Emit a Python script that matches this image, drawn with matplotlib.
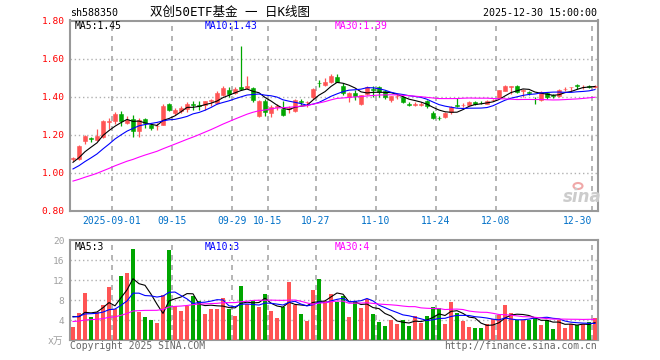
import numpy as np
import pandas as pd
import matplotlib
matplotlib.use('Agg')
import matplotlib.pyplot as plt
from matplotlib.patches import Ellipse

# daily K data, 2025-08-21 .. 2025-12-30 (88 trading days)
opens = [1.075, 1.075, 1.165, 1.182, 1.174, 1.190, 1.266, 1.272, 1.310, 1.260,
         1.284, 1.220, 1.284, 1.250, 1.245, 1.252, 1.363, 1.316, 1.323, 1.337,
         1.362, 1.357, 1.354, 1.377, 1.368, 1.410, 1.433, 1.420, 1.453, 1.447,
         1.447, 1.300, 1.378, 1.315, 1.345, 1.336, 1.338, 1.323, 1.377, 1.370,
         1.397, 1.474, 1.460, 1.478, 1.502, 1.458, 1.397, 1.422, 1.362, 1.414,
         1.440, 1.450, 1.428, 1.384, 1.402, 1.398, 1.362, 1.358, 1.359, 1.378,
         1.317, 1.290, 1.296, 1.318, 1.355, 1.355, 1.358, 1.372, 1.369, 1.363,
         1.382, 1.395, 1.432, 1.452, 1.455, 1.430, 1.426, 1.390, 1.382, 1.418,
         1.407, 1.405, 1.440, 1.449, 1.460, 1.449, 1.456, 1.452]
highs = [1.086, 1.145, 1.198, 1.191, 1.232, 1.278, 1.286, 1.318, 1.326, 1.300,
         1.304, 1.290, 1.290, 1.258, 1.262, 1.360, 1.365, 1.340, 1.352, 1.370,
         1.380, 1.375, 1.380, 1.390, 1.428, 1.456, 1.450, 1.450, 1.665, 1.507,
         1.450, 1.382, 1.390, 1.358, 1.360, 1.380, 1.350, 1.390, 1.390, 1.380,
         1.444, 1.490, 1.498, 1.518, 1.518, 1.470, 1.425, 1.435, 1.410, 1.455,
         1.455, 1.455, 1.435, 1.405, 1.415, 1.402, 1.370, 1.370, 1.370, 1.385,
         1.325, 1.300, 1.320, 1.352, 1.393, 1.365, 1.375, 1.378, 1.378, 1.382,
         1.390, 1.436, 1.462, 1.456, 1.460, 1.440, 1.432, 1.400, 1.428, 1.425,
         1.415, 1.440, 1.450, 1.452, 1.468, 1.460, 1.462, 1.462]
lows = [1.065, 1.070, 1.151, 1.160, 1.170, 1.185, 1.230, 1.258, 1.247, 1.255,
        1.191, 1.190, 1.235, 1.226, 1.226, 1.250, 1.325, 1.305, 1.316, 1.322,
        1.328, 1.328, 1.330, 1.350, 1.360, 1.405, 1.400, 1.415, 1.435, 1.440,
        1.370, 1.295, 1.300, 1.293, 1.330, 1.298, 1.317, 1.318, 1.355, 1.345,
        1.390, 1.450, 1.455, 1.470, 1.475, 1.410, 1.370, 1.385, 1.355, 1.410,
        1.400, 1.400, 1.390, 1.370, 1.390, 1.365, 1.350, 1.350, 1.350, 1.340,
        1.282, 1.280, 1.290, 1.310, 1.345, 1.345, 1.355, 1.358, 1.360, 1.360,
        1.375, 1.392, 1.428, 1.416, 1.420, 1.400, 1.410, 1.360, 1.378, 1.390,
        1.395, 1.400, 1.430, 1.432, 1.440, 1.440, 1.445, 1.445]
closes = [1.078, 1.142, 1.196, 1.178, 1.195, 1.272, 1.270, 1.310, 1.273, 1.279,
          1.220, 1.279, 1.262, 1.236, 1.248, 1.352, 1.330, 1.332, 1.343, 1.362,
          1.355, 1.353, 1.378, 1.381, 1.418, 1.446, 1.415, 1.442, 1.441, 1.458,
          1.385, 1.378, 1.318, 1.348, 1.350, 1.302, 1.342, 1.383, 1.373, 1.373,
          1.442, 1.470, 1.475, 1.510, 1.478, 1.420, 1.419, 1.403, 1.407, 1.450,
          1.435, 1.423, 1.397, 1.402, 1.405, 1.373, 1.358, 1.361, 1.362, 1.350,
          1.290, 1.287, 1.316, 1.348, 1.352, 1.358, 1.372, 1.364, 1.366, 1.378,
          1.385, 1.433, 1.458, 1.455, 1.424, 1.434, 1.422, 1.387, 1.424, 1.400,
          1.404, 1.436, 1.443, 1.452, 1.456, 1.452, 1.452, 1.456]
# volume in 10k lots
volumes = [2.7, 5.5, 9.4, 4.7, 5.7, 7.0, 10.6, 6.2, 12.8, 13.5,
           18.2, 5.6, 4.6, 4.0, 3.4, 9.0, 18.0, 6.8, 5.8, 6.8,
           8.8, 7.8, 5.2, 6.2, 6.2, 8.5, 6.3, 4.9, 10.8, 7.3,
           7.8, 6.7, 9.2, 5.8, 4.5, 6.7, 11.6, 7.0, 5.2, 3.8,
           10.0, 12.3, 7.8, 9.2, 7.7, 8.8, 4.7, 7.8, 6.5, 8.2,
           5.2, 3.7, 2.9, 4.0, 3.2, 4.0, 2.9, 4.8, 3.5, 4.8,
           6.6, 6.4, 3.2, 7.6, 5.5, 3.9, 2.7, 2.4, 2.4, 3.2,
           4.3, 5.0, 7.0, 5.5, 4.0, 4.0, 4.0, 4.7, 3.0, 4.0,
           2.2, 4.0, 2.5, 3.2, 3.0, 3.2, 3.6, 4.4]
# sessions before the window, only used to seed the moving averages
prior_closes = [0.86, 0.87, 0.88, 0.875, 0.885, 0.89, 0.90, 0.91, 0.92, 0.93,
                0.925, 0.935, 0.94, 0.95, 0.955, 0.96, 0.965, 0.97, 0.985, 1.0,
                0.97, 0.98, 0.985, 0.99, 1.005, 1.02, 1.04, 1.06, 1.08]
prior_volumes = [2.8, 3.1, 2.6, 3.4, 3.0, 2.9, 3.3, 3.6, 2.7, 3.2,
                 3.5, 3.0, 3.8, 3.1, 3.4, 3.6, 3.2, 3.9, 3.4, 3.5,
                 4.1, 4.6, 4.3, 4.9, 4.6, 5.8, 4.9, 5.3, 4.8]

date_labels = ['2025-09-01', '09-15', '09-29', '10-15', '10-27', '11-10', '11-24', '12-08', '12-30']
date_index = [7, 17, 27, 33, 41, 51, 61, 71, 87]
price_ticks = [0.80, 1.00, 1.20, 1.40, 1.60, 1.80]
vol_ticks = [4, 8, 12, 16, 20]

n = len(closes)
x = np.arange(n)
c_all = pd.Series(prior_closes + closes)
v_all = pd.Series(prior_volumes + volumes)
ma = {k: c_all.rolling(k).mean().values[-n:] for k in (5, 10, 30)}
vma = {k: v_all.rolling(k).mean().values[-n:] for k in (5, 10, 30)}

RED = '#ff5454'
GREEN = '#00a600'
ma_colors = {5: 'black', 10: '#0000ff', 30: '#ff00ff'}
mono = ['DejaVu Sans Mono', 'Noto Sans CJK SC']

W, H = 660, 360
fig = plt.figure(figsize=(6.6, 3.6), dpi=100)

def fx(px):
    return px / W

def fy(py):
    return 1 - py / H

ax = fig.add_axes([fx(70), fy(211), 528 / W, 190.5 / H])
axv = fig.add_axes([fx(70), fy(340), 528 / W, 100 / H])

up = [c >= o for o, c in zip(opens, closes)]
cols = [RED if u else GREEN for u in up]

# candles
ax.vlines(x, lows, highs, colors=cols, lw=0.9, zorder=3)
bodies = [max(abs(c - o), 0.003) for o, c in zip(opens, closes)]
bottoms = [min(o, c) for o, c in zip(opens, closes)]
ax.bar(x, bodies, bottom=bottoms, width=0.8, color=cols, edgecolor=cols, lw=0.4, zorder=4)
for k in (5, 10, 30):
    ax.plot(x, ma[k], color=ma_colors[k], lw=0.8, zorder=5)

# volume
axv.bar(x, volumes, width=0.8, color=cols, zorder=3)
for k in (5, 10, 30):
    axv.plot(x, vma[k], color=ma_colors[k], lw=0.8, zorder=5)

for a in (ax, axv):
    a.set_xlim(-0.5, n - 0.5)
    a.set_xticks([])
    for d in date_index:
        a.axvline(d - 0.5, color='#a8a8a8', lw=1.2, ls=(0, (3, 3)), zorder=1)
    for s in a.spines.values():
        s.set_color('#999999')
        s.set_linewidth(1.5)
    a.tick_params(axis='y', length=0, pad=4)

ax.set_ylim(0.8, 1.8)
ax.set_yticks(price_ticks)
ax.set_yticklabels(['%.2f' % t for t in price_ticks], color='red', fontsize=6.8, family=mono)
for t in price_ticks[1:-1]:
    ax.axhline(t, color='#b0b0b0', lw=1.0, ls=(0, (1, 2)), zorder=1)

axv.set_ylim(0, 20)
axv.set_yticks(vol_ticks)
axv.set_yticklabels([str(t) for t in vol_ticks], color='#a0a0a0', fontsize=6.8, family=mono)
for t in vol_ticks[:-1]:
    axv.axhline(t, color='#b0b0b0', lw=1.0, ls=(0, (1, 2)), zorder=1)

# date labels
for lab, d in zip(date_labels, date_index):
    ha = 'right' if d == n - 1 else 'center'
    ax.text(d - 0.5, -0.052, lab, transform=ax.get_xaxis_transform(), ha=ha, va='center',
            color='#0070c8', fontsize=7, family=mono)

# header texts
fig.text(fx(70), fy(13), 'sh588350', fontsize=7.2, family=mono, va='center')
fig.text(fx(230), fy(12), '双创50ETF基金 一 日K线图', fontsize=9, family=mono, va='center', ha='center')
fig.text(fx(597), fy(13), '2025-12-30 15:00:00', fontsize=7.2, family=mono, va='center', ha='right')

for px, lab, k in [(75, 'MA5:1.45', 5), (205, 'MA10:1.43', 10), (335, 'MA30:1.39', 30)]:
    fig.text(fx(px), fy(26), lab, fontsize=7, family=mono, va='center', color=ma_colors[k])
for px, lab, k in [(75, 'MA5:3', 5), (205, 'MA10:3', 10), (335, 'MA30:4', 30)]:
    fig.text(fx(px), fy(246.5), lab, fontsize=7, family=mono, va='center', color=ma_colors[k])

fig.text(fx(63), fy(341), 'x万', fontsize=7, family=mono, va='center', ha='right', color='#a0a0a0')
fig.text(fx(70), fy(346), 'Copyright 2025 SINA.COM', fontsize=7, family=mono, va='center', color='#666666')
fig.text(fx(597), fy(346), 'http://finance.sina.com.cn', fontsize=7, family=mono, va='center', ha='right', color='#666666')

# sina watermark
fig.text(fx(582), fy(197), 'sina', fontsize=12, fontweight='bold', style='italic', color='#cccccc',
         ha='center', va='center', family='DejaVu Sans')
fig.add_artist(Ellipse((fx(578), fy(186)), 9 / W, 6 / H, facecolor='none', edgecolor='#f0a8a8',
                       lw=1.5, transform=fig.transFigure))

fig.savefig('out.png', dpi=100, facecolor='white')
